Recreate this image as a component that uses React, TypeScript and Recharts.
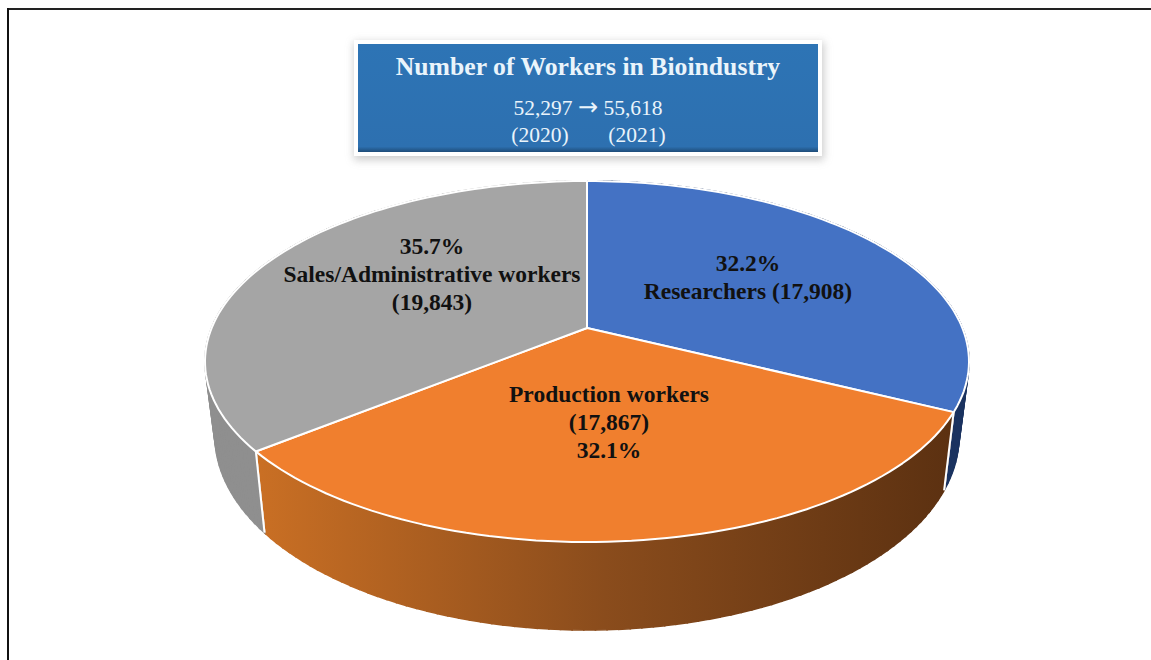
import { Pie, PieChart } from 'recharts';

const sliceNames = ['Researchers', 'Production workers', 'Sales/Administrative workers'];
const sliceValues = [17908, 17867, 19843];
const sliceColors = ['#4472C4', '#F07F2E', '#A5A5A5'];
const sliceLabels = [
  ['32.2%', 'Researchers (17,908)'],
  ['Production workers', '(17,867)', '32.1%'],
  ['35.7%', 'Sales/Administrative workers', '(19,843)'],
];
const titleText = 'Number of Workers in Bioindustry';

const tableData = sliceNames.map((name, i) => ({ name, value: sliceValues[i] }));

// label anchor of each slice, relative to the pie centre
const labelOffsets = [
  { dx: 161, dy: -91 },
  { dx: 22, dy: 40 },
  { dx: -155, dy: -108 },
];

const CX = 587;
const CY = 361.5;
const RX = 382;
const TOP_SQUASH = 180.5 / 382;
const APEX_SHIFT = 33.5;
const RIM_SKEW = 0.09; // perspective pull of the rim towards the viewer
const BOTTOM = { cy: 436, rx: 372, ry: 194 };

// unit ellipse position for a clockwise angle from 12 o'clock
function rimUnit(deg: number) {
  const t = (deg * Math.PI) / 180;
  const a = Math.sin(t);
  const b = Math.cos(t) + RIM_SKEW;
  const c = 1 + RIM_SKEW * Math.cos(t);
  const d = -RIM_SKEW * Math.sin(t);
  const n = c * c + d * d;
  return { x: (a * c + b * d) / n, y: (b * c - a * d) / n };
}

function PieSlice3D(props: any) {
  const { cx, cy, outerRadius, startAngle, endAngle, fill, index } = props;
  const ry = outerRadius * TOP_SQUASH;
  const from = 90 - startAngle;
  const to = 90 - endAngle;
  const angles: number[] = [];
  for (let a = from; a < to; a += 1.5) angles.push(a);
  angles.push(to);

  const top = (a: number) => {
    const u = rimUnit(a);
    return { x: cx + u.x * outerRadius, y: cy - u.y * ry };
  };
  const bottom = (a: number) => {
    const u = rimUnit(a);
    return { x: cx + u.x * BOTTOM.rx, y: BOTTOM.cy - u.y * BOTTOM.ry };
  };

  const wallFill = index === 1 ? 'url(#orangeWall)' : index === 0 ? '#1B3360' : '#8F8F8F';
  const face = angles.map((a) => {
    const p = top(a);
    return `L${p.x.toFixed(1)},${p.y.toFixed(1)}`;
  });

  return (
    <g>
      <defs>
        <linearGradient id="orangeWall" gradientUnits="userSpaceOnUse" x1="260" x2="950" y1="0" y2="0">
          <stop offset="0" stopColor="#C96F24" />
          <stop offset="0.5" stopColor="#8A4C1C" />
          <stop offset="1" stopColor="#5C3111" />
        </linearGradient>
      </defs>
      {angles.slice(1).map((a, i) => {
        const p1 = top(angles[i]);
        const p2 = top(a);
        const q2 = bottom(a);
        const q1 = bottom(angles[i]);
        return (
          <path
            key={a}
            d={`M${p1.x},${p1.y}L${p2.x},${p2.y}L${q2.x},${q2.y}L${q1.x},${q1.y}Z`}
            fill={wallFill}
            stroke={wallFill}
            strokeWidth={1.6}
          />
        );
      })}
      {[from, to].map((a) => {
        const p = top(a);
        const q = bottom(a);
        return <line key={a} x1={p.x} y1={p.y} x2={q.x} y2={q.y} stroke="#ffffff" strokeWidth={2} />;
      })}
      <path
        d={`M${cx},${cy - APEX_SHIFT}${face.join('')}Z`}
        fill={fill}
        stroke="#ffffff"
        strokeWidth={2}
        strokeLinejoin="round"
      />
    </g>
  );
}

function renderSliceLabel(props: any) {
  const { index, cx, cy } = props;
  const { dx, dy } = labelOffsets[index];
  return (
    <text
      x={cx + dx}
      y={cy + dy}
      textAnchor="middle"
      fontFamily="'Liberation Serif', serif"
      fontWeight={700}
      fontSize={23.5}
      fill="#111111"
    >
      {sliceLabels[index].map((line, i) => (
        <tspan key={line} x={cx + dx} dy={i === 0 ? 0 : 28}>
          {line}
        </tspan>
      ))}
    </text>
  );
}

export default function App() {
  return (
    <div
      style={{
        position: 'absolute',
        left: 0,
        top: 0,
        width: 1151,
        height: 660,
        overflow: 'hidden',
        background: '#ffffff',
        fontFamily: "'Liberation Serif', serif",
      }}
    >
      {/* frame of the original figure: only top and left survive the crop */}
      <div style={{ position: 'absolute', left: 7, top: 8, width: 1144, height: 2, background: '#222222' }} />
      <div style={{ position: 'absolute', left: 7, top: 8, width: 2, height: 652, background: '#111111' }} />

      <PieChart
        width={1151}
        height={660}
        margin={{ top: 0, right: 0, bottom: 0, left: 0 }}
        style={{ position: 'absolute', left: 0, top: 0 }}
      >
        <Pie
          data={tableData}
          dataKey="value"
          nameKey="name"
          cx={CX}
          cy={CY}
          innerRadius={0}
          outerRadius={RX}
          startAngle={90}
          endAngle={-270}
          stroke="none"
          fill="#4472C4"
          shape={(props: any, i: number) => (
            <PieSlice3D {...props} index={i} fill={sliceColors[i]} />
          )}
          label={renderSliceLabel}
          labelLine={false}
          isAnimationActive={false}
        />
      </PieChart>

      {/* title box */}
      <div
        style={{
          position: 'absolute',
          left: 358,
          top: 44,
          width: 460,
          height: 108,
          background: 'linear-gradient(180deg, #2D74B5 0%, #2D70B0 95%, #1E4C78 100%)',
          outline: '4px solid #ffffff',
          boxShadow: '1px 3px 8px 5px rgba(130,130,130,0.4)',
          color: '#EAF4FB',
          textAlign: 'center',
        }}
      >
        <div style={{ position: 'absolute', top: 8, width: '100%', fontSize: 25.7, fontWeight: 700, lineHeight: '30px' }}>
          {titleText}
        </div>
        <div style={{ position: 'absolute', top: 51, width: '100%', fontSize: 21.5, lineHeight: '26px' }}>
          52,297 <span style={{ fontFamily: "'DejaVu Sans', sans-serif", fontSize: 24, lineHeight: '20px' }}>→</span> 55,618
        </div>
        <div style={{ position: 'absolute', top: 78, left: 142, width: 80, fontSize: 21.5, lineHeight: '26px' }}>(2020)</div>
        <div style={{ position: 'absolute', top: 78, left: 239, width: 80, fontSize: 21.5, lineHeight: '26px' }}>(2021)</div>
      </div>
    </div>
  );
}
